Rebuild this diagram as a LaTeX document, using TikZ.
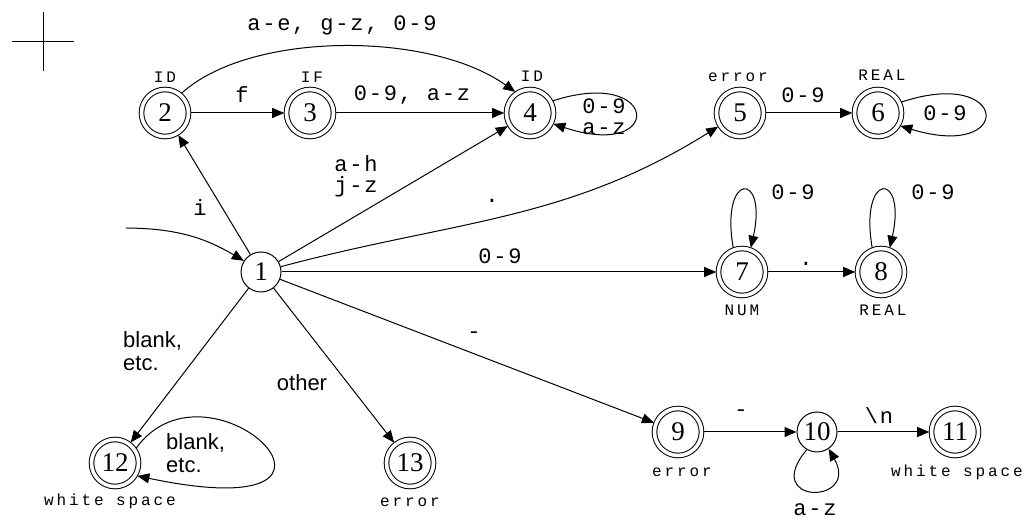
\documentclass[tikz,border=0pt]{standalone}
\usepackage{fontspec}
\setmainfont{Liberation Serif}
\newfontfamily\edgefont[LetterSpace=8]{Liberation Mono}
\newfontfamily\tagfont[LetterSpace=18]{Liberation Mono}
\newfontfamily\labsans{Liberation Sans}
\usetikzlibrary{arrows.meta}
\begin{document}
\begin{tikzpicture}[x=1pt,y=1pt,
  state/.style={circle, draw, minimum size=40pt, inner sep=0pt, line width=1pt, font=\fontsize{27}{27}\selectfont},
  accept/.style={state, minimum size=47pt, double, double distance=3.6pt, outer sep=2.3pt},
  edge/.style={-{Triangle[length=12pt,width=10pt]}, line width=1pt},
  lab/.style={font=\edgefont\fontsize{22}{22}\selectfont, inner sep=0pt, align=center},
  tag/.style={font=\tagfont\fontsize{16}{16}\selectfont, inner sep=0pt},
  sans/.style={font=\labsans\fontsize{22}{23}\selectfont, inner sep=0pt, align=left}]
\path[use as bounding box, fill=white] (0,0) rectangle (1026,521);
% crosshair
\draw[line width=1pt] (43,509) -- (43,450) (12,479) -- (74,479);
% states
\node[state]  (n1)  at (261,249) {1};
\node[accept] (n2)  at (165,408) {2};
\node[accept] (n3)  at (310,408) {3};
\node[accept] (n4)  at (530,408) {4};
\node[accept] (n5)  at (740,408) {5};
\node[accept] (n6)  at (878,408) {6};
\node[accept] (n7)  at (742,249) {7};
\node[accept] (n8)  at (881,249) {8};
\node[accept] (n9)  at (678,89)  {9};
\node[state]  (n10) at (817,89)  {10};
\node[accept] (n11) at (955,89)  {11};
\node[accept] (n12) at (115,58)  {12};
\node[accept] (n13) at (410,58)  {13};
% state tags
\node[tag] (t2)  at (165,444) {ID};
\node[tag] (t3)  at (312,444) {IF};
\node[tag] (t4)  at (532,445) {ID};
\node[tag] (t5)  at (738,444) {error};
\node[tag] (t6)  at (882,446) {REAL};
\node[tag] (t7)  at (742,211) {NUM};
\node[tag] (t8)  at (883,211) {REAL};
\node[tag] (t9)  at (682,49)  {error};
\node[tag] (t11) at (957,49)  {white space};
\node[tag] (t12) at (110,20)  {white space};
\node[tag] (t13) at (410,19)  {error};
% edges
\coordinate (start) at (126,293);
\draw[edge] (start) to[bend left=15] (n1);
\draw[edge] (n1) -- (n2);
\draw[edge] (n2) -- (n3);
\draw[edge] (n3) -- (n4);
\draw[edge] (n2.50) .. controls (250,490) and (430,490) .. (n4.125);
\draw[edge] (n1) -- (n4);
\draw[edge] (n1) to[out=15,in=212] (n5);
\draw[edge] (n1) -- (n7);
\draw[edge] (n1) -- (n9);
\draw[edge] (n1) -- (n12);
\draw[edge] (n1) -- (n13);
\draw[edge] (n5) -- (n6);
\draw[edge] (n7) -- (n8);
\draw[edge] (n9) -- (n10);
\draw[edge] (n10) -- (n11);
% loops
\draw[edge] (n4.28) .. controls (660,455) and (665,360) .. (n4.-25);
\draw[edge] (n6.25) .. controls (1010,455) and (1015,360) .. (n6.-30);
\draw[edge] (n7.110) .. controls (720,350) and (768,350) .. (n7.70);
\draw[edge] (n8.110) .. controls (859,350) and (907,350) .. (n8.70);
\draw[edge] (n10.-120) .. controls (760,16) and (860,16) .. (n10.-55);
\draw[edge] (n12.35) .. controls (210,175) and (400,-10) .. (n12.-30);
% edge labels
\node[lab] (l24)  at (342,496) {a-e, g-z, 0-9};
\node[lab] (l23)  at (242,426) {f};
\node[lab] (l34)  at (412,426) {0-9, a-z};
\node[lab] (l44)  at (604,404) {0-9\\[-1pt]a-z};
\node[lab] (l14)  at (356,345) {a-h\\[-1pt]j-z};
\node[lab] (l12)  at (200,313) {i};
\node[lab, anchor=base] (l15) at (492,318) {.};
\node[lab] (l17)  at (500,265) {0-9};
\node[lab] (l19)  at (474,186) {-};
\node[lab] (l56)  at (803,426) {0-9};
\node[lab] (l66)  at (945,408) {0-9};
\node[lab] (l77)  at (793,329) {0-9};
\node[lab] (l88)  at (933,329) {0-9};
\node[lab, anchor=base] (l78) at (806,255) {.};
\node[lab] (l910) at (741,108) {-};
\node[lab] (l1011) at (879,105) {\textbackslash n};
\node[lab] (l1010) at (815,11) {a-z};
\node[sans, anchor=west] (l112) at (123,170) {blank,\\etc.};
\node[sans] (l113) at (302,138) {other};
\node[sans, anchor=west] (l1212) at (166,68) {blank,\\etc.};
\end{tikzpicture}
\end{document}
